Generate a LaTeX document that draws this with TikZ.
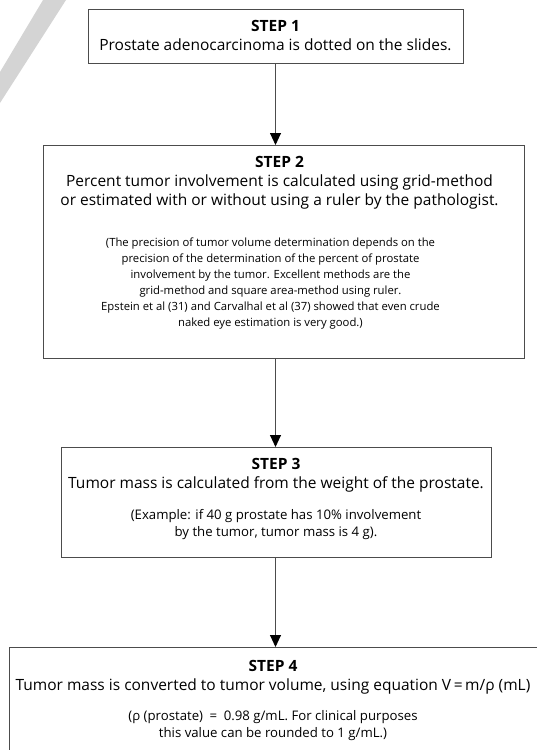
\documentclass[tikz,border=0pt]{standalone}
\usepackage{fontspec}
\setmainfont{Open Sans}
\usetikzlibrary{positioning,arrows.meta}
\newcommand{\stepnote}{\fontsize{13.2}{17}\selectfont}
\newcommand{\stepsmall}{\fontsize{11.3}{16}\selectfont}
% fixed-size box body, text hung from the top
\newcommand{\stepbody}[4]{\parbox[c][#1][t]{#2}{\centering\vspace*{#3}#4}}
\begin{document}
\begin{tikzpicture}[x=1pt, y=-1pt,
  stepbox/.style={draw=black!70, line width=0.8pt, anchor=north, inner sep=0pt, font=\fontsize{15.5}{19}\selectfont},
  ln/.style={draw=black!70, line width=0.9pt, -{Triangle[length=12pt,width=11pt,black]}}
]
\useasboundingbox (0,0) rectangle (536,750);
% grey stripe in the corner
\fill[black!17] (43,0) -- (66,0) -- (0,103) -- (0,72) -- cycle;
% the four steps
\node[stepbox] (s1) at (275.5,9) {\stepbody{54pt}{375pt}{11pt}{\textbf{STEP 1}\\Prostate adenocarcinoma is dotted on the slides.}};
\node[stepbox] (s2) at (283.5,145) {\stepbody{213pt}{481pt}{11pt}{\rightskip=8pt plus 1fil
  \textbf{STEP 2}\\Percent tumor involvement is calculated using grid-method\\or estimated with or without using a ruler by the pathologist.\par\vspace{25pt}
  {\stepsmall\rightskip=26pt plus 1fil (The precision of tumor volume determination depends on the\\precision of the determination of the percent of prostate\\involvement by the tumor. Excellent methods are the\\grid-method and square area-method using ruler.\\Epstein et al (31) and Carvalhal et al (37) showed that even crude\\naked eye estimation is very good.)\par}}};
\node[stepbox] (s3) at (276,447) {\stepbody{110pt}{430pt}{11pt}{\textbf{STEP 3}\\Tumor mass is calculated from the weight of the prostate.\par\vspace{14pt}
  {\stepnote (Example: if 40 g prostate has 10\% involvement\\by the tumor, tumor mass is 4 g).\par}}};
\node[stepbox] (s4) at (273,647) {\stepbody{120pt}{528pt}{13pt}{\textbf{STEP 4}\\Tumor mass is converted to tumor volume, using equation V\,=\,m/ρ (mL)\par\vspace{13pt}
  {\stepnote (ρ (prostate)\enspace=\enspace0.98 g/mL. For clinical purposes\\this value can be rounded to 1 g/mL.)\par}}};
% connectors
\foreach \a/\b in {s1/s2,s2/s3,s3/s4} {\draw[ln] (s1.south |- \a.south) -- (s1.south |- \b.north);}
\end{tikzpicture}
\end{document}
